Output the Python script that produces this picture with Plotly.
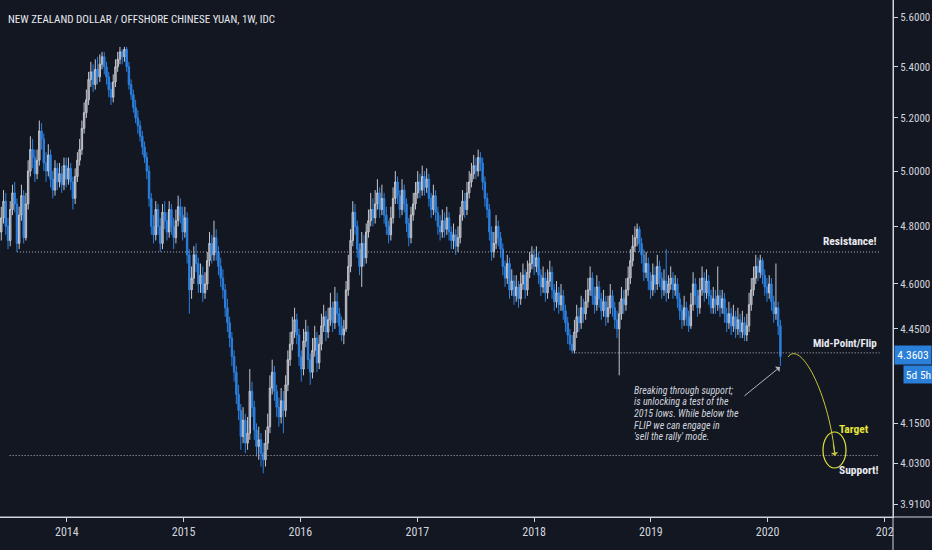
import math
import pandas as pd
import plotly.graph_objects as go

# weekly NZD/CNH candles, Jun 2013 -> Feb 2020
first_open = 4.78
closes = [
    # 2013
    4.83, 4.89, 4.80, 4.75, 4.86, 4.92, 4.88, 4.74, 4.84, 4.91, 4.76, 4.88, 5.00, 5.08, 5.05,
    4.99, 5.04, 5.15, 5.12, 5.03, 5.00, 5.06, 4.97, 4.93, 5.01, 4.96, 4.99, 4.95, 5.02,
    # 2014
    4.97, 5.01, 4.96, 4.90, 4.98, 5.04, 5.08, 5.16, 5.22, 5.27, 5.35, 5.38, 5.33, 5.39, 5.36,
    5.41, 5.44, 5.40, 5.36, 5.31, 5.28, 5.34, 5.40, 5.43, 5.46, 5.44, 5.47, 5.40, 5.33, 5.29,
    5.24, 5.20, 5.17, 5.13, 5.09, 5.05, 5.00, 4.90, 4.80, 4.77, 4.86, 4.80, 4.74, 4.85, 4.82,
    4.78, 4.86, 4.80, 4.76, 4.82, 4.87, 4.84,
    # 2015
    4.78, 4.83, 4.70, 4.58, 4.62, 4.70, 4.67, 4.60, 4.63, 4.57, 4.60, 4.68, 4.74, 4.70, 4.76,
    4.71, 4.66, 4.62, 4.58, 4.52, 4.47, 4.42, 4.36, 4.31, 4.24, 4.19, 4.11, 4.16, 4.09, 4.12,
    4.25, 4.20, 4.13, 4.08, 4.10, 4.06, 4.04, 4.09, 4.14, 4.26, 4.31, 4.25, 4.20, 4.17, 4.22,
    4.19, 4.27, 4.35, 4.40, 4.44, 4.48, 4.43,
    # 2016
    4.36, 4.32, 4.41, 4.44, 4.35, 4.31, 4.38, 4.42, 4.34, 4.40, 4.46, 4.49, 4.44, 4.48, 4.52,
    4.47, 4.54, 4.50, 4.46, 4.43, 4.45, 4.58, 4.66, 4.75, 4.85, 4.80, 4.72, 4.66, 4.74, 4.69,
    4.78, 4.82, 4.86, 4.83, 4.88, 4.92, 4.86, 4.90, 4.84, 4.80, 4.77, 4.83, 4.90, 4.96, 4.91,
    4.86, 4.93, 4.88, 4.81, 4.76, 4.84, 4.88,
    # 2017
    4.92, 4.96, 4.93, 4.98, 4.94, 4.97, 4.90, 4.86, 4.91, 4.85, 4.80, 4.78, 4.82, 4.79, 4.83,
    4.78, 4.75, 4.77, 4.73, 4.76, 4.84, 4.89, 4.86, 4.92, 4.96, 4.99, 5.02, 5.00, 5.05, 5.03,
    4.96, 4.90, 4.86, 4.78, 4.71, 4.74, 4.80, 4.76, 4.72, 4.66, 4.62, 4.67, 4.58, 4.61, 4.56,
    4.59, 4.55, 4.60, 4.63, 4.58, 4.64, 4.67,
    # 2018
    4.70, 4.66, 4.69, 4.63, 4.59, 4.62, 4.57, 4.61, 4.64, 4.58, 4.54, 4.57, 4.53, 4.56, 4.51,
    4.47, 4.43, 4.40, 4.38, 4.44, 4.49, 4.47, 4.52, 4.50, 4.54, 4.58, 4.62, 4.56, 4.53, 4.59,
    4.55, 4.51, 4.54, 4.49, 4.52, 4.56, 4.52, 4.48, 4.45, 4.50, 4.55, 4.53, 4.58, 4.62, 4.68,
    4.73, 4.76, 4.79, 4.74, 4.70, 4.64, 4.67, 4.61,
    # 2019
    4.58, 4.63, 4.60, 4.66, 4.62, 4.58, 4.61, 4.57, 4.60, 4.62, 4.58, 4.60, 4.55, 4.51, 4.48,
    4.52, 4.49, 4.46, 4.53, 4.60, 4.56, 4.52, 4.58, 4.62, 4.57, 4.61, 4.56, 4.52, 4.55, 4.53,
    4.56, 4.52, 4.55, 4.50, 4.47, 4.50, 4.46, 4.49, 4.45, 4.48, 4.44, 4.47, 4.43, 4.46, 4.53,
    4.58, 4.62, 4.66, 4.64, 4.68, 4.63, 4.59,
    # 2020
    4.57, 4.60, 4.54, 4.50, 4.52, 4.46, 4.3603,
]
highs = [
    4.87, 4.93, 4.92, 4.83, 4.89, 4.95, 4.96, 4.90, 4.87, 4.95, 4.93, 4.92, 5.04, 5.13, 5.12,
    5.08, 5.08, 5.19, 5.18, 5.14, 5.07, 5.10, 5.08, 5.00, 5.04, 5.03, 5.03, 5.02, 5.05,
    5.05, 5.05, 5.03, 4.98, 5.01, 5.07, 5.12, 5.19, 5.26, 5.31, 5.38, 5.42, 5.41, 5.43, 5.44,
    5.45, 5.46, 5.46, 5.42, 5.38, 5.34, 5.37, 5.43, 5.46, 5.48, 5.47, 5.48, 5.48, 5.42, 5.35,
    5.31, 5.27, 5.23, 5.19, 5.15, 5.11, 5.07, 5.02, 4.92, 4.84, 4.89, 4.88, 4.83, 4.88, 4.89,
    4.85, 4.89, 4.88, 4.83, 4.86, 4.91, 4.90,
    4.87, 4.87, 4.85, 4.72, 4.66, 4.73, 4.74, 4.69, 4.67, 4.66, 4.64, 4.71, 4.78, 4.77, 4.82,
    4.79, 4.73, 4.69, 4.65, 4.60, 4.55, 4.49, 4.44, 4.38, 4.33, 4.27, 4.21, 4.20, 4.18, 4.17,
    4.32, 4.28, 4.22, 4.15, 4.14, 4.12, 4.09, 4.13, 4.18, 4.30, 4.35, 4.33, 4.27, 4.23, 4.26,
    4.25, 4.30, 4.38, 4.44, 4.49, 4.52, 4.50,
    4.45, 4.38, 4.45, 4.48, 4.46, 4.37, 4.42, 4.46, 4.44, 4.43, 4.50, 4.53, 4.51, 4.52, 4.57,
    4.54, 4.59, 4.57, 4.52, 4.49, 4.48, 4.61, 4.70, 4.79, 4.89, 4.88, 4.82, 4.74, 4.78, 4.77,
    4.81, 4.86, 4.92, 4.90, 4.93, 4.97, 4.94, 4.95, 4.92, 4.87, 4.82, 4.87, 4.94, 5.00, 4.98,
    4.93, 4.97, 4.95, 4.90, 4.83, 4.87, 4.92,
    4.96, 5.00, 4.99, 5.02, 5.00, 5.01, 4.99, 4.92, 4.95, 4.93, 4.87, 4.84, 4.86, 4.85, 4.87,
    4.85, 4.80, 4.81, 4.79, 4.80, 4.87, 4.93, 4.92, 4.96, 5.00, 5.03, 5.06, 5.05, 5.08, 5.07,
    5.05, 4.98, 4.92, 4.88, 4.80, 4.78, 4.84, 4.82, 4.78, 4.74, 4.68, 4.70, 4.69, 4.65, 4.63,
    4.63, 4.61, 4.64, 4.67, 4.65, 4.68, 4.71,
    4.73, 4.72, 4.73, 4.71, 4.65, 4.66, 4.64, 4.65, 4.68, 4.66, 4.60, 4.61, 4.59, 4.60, 4.58,
    4.53, 4.49, 4.45, 4.43, 4.48, 4.53, 4.52, 4.56, 4.55, 4.58, 4.62, 4.66, 4.64, 4.59, 4.63,
    4.61, 4.57, 4.58, 4.56, 4.56, 4.60, 4.58, 4.54, 4.51, 4.54, 4.59, 4.58, 4.62, 4.66, 4.72,
    4.77, 4.80, 4.81, 4.80, 4.76, 4.72, 4.71, 4.69,
    4.64, 4.67, 4.66, 4.70, 4.68, 4.64, 4.65, 4.72, 4.63, 4.66, 4.64, 4.63, 4.62, 4.57, 4.53,
    4.56, 4.54, 4.51, 4.57, 4.64, 4.62, 4.58, 4.62, 4.66, 4.64, 4.65, 4.63, 4.58, 4.59, 4.58,
    4.66, 4.58, 4.58, 4.57, 4.52, 4.54, 4.52, 4.53, 4.51, 4.52, 4.50, 4.51, 4.49, 4.50, 4.57,
    4.62, 4.66, 4.70, 4.69, 4.70, 4.69, 4.65,
    4.62, 4.63, 4.62, 4.56, 4.67, 4.54, 4.48,
]
lows = [
    4.75, 4.81, 4.77, 4.72, 4.73, 4.84, 4.85, 4.71, 4.72, 4.82, 4.74, 4.75, 4.86, 4.98, 5.01,
    4.96, 4.97, 5.02, 5.08, 5.00, 4.96, 4.98, 4.94, 4.90, 4.91, 4.93, 4.94, 4.92, 4.93,
    4.94, 4.95, 4.93, 4.86, 4.88, 4.96, 5.02, 5.06, 5.14, 5.20, 5.25, 5.32, 5.30, 5.31, 5.33,
    5.34, 5.39, 5.37, 5.33, 5.28, 5.25, 5.26, 5.32, 5.38, 5.41, 5.41, 5.42, 5.38, 5.31, 5.27,
    5.22, 5.18, 5.14, 5.11, 5.06, 5.03, 4.97, 4.87, 4.77, 4.74, 4.75, 4.77, 4.71, 4.72, 4.79,
    4.75, 4.76, 4.77, 4.72, 4.74, 4.80, 4.81,
    4.75, 4.76, 4.67, 4.50, 4.55, 4.60, 4.64, 4.57, 4.57, 4.54, 4.55, 4.58, 4.66, 4.67, 4.68,
    4.68, 4.63, 4.59, 4.55, 4.49, 4.44, 4.39, 4.33, 4.28, 4.21, 4.16, 4.07, 4.09, 4.06, 4.07,
    4.10, 4.17, 4.10, 4.05, 4.04, 4.02, 4.00, 4.02, 4.07, 4.12, 4.24, 4.22, 4.17, 4.14, 4.15,
    4.12, 4.17, 4.25, 4.33, 4.38, 4.42, 4.40,
    4.33, 4.28, 4.30, 4.39, 4.32, 4.27, 4.29, 4.36, 4.31, 4.32, 4.38, 4.44, 4.41, 4.42, 4.46,
    4.44, 4.45, 4.47, 4.43, 4.41, 4.40, 4.44, 4.56, 4.64, 4.73, 4.77, 4.69, 4.63, 4.59, 4.66,
    4.67, 4.76, 4.80, 4.80, 4.81, 4.86, 4.83, 4.84, 4.81, 4.77, 4.74, 4.75, 4.81, 4.88, 4.88,
    4.83, 4.84, 4.85, 4.78, 4.73, 4.74, 4.82,
    4.86, 4.90, 4.90, 4.91, 4.91, 4.92, 4.87, 4.83, 4.84, 4.82, 4.77, 4.75, 4.76, 4.76, 4.77,
    4.75, 4.72, 4.72, 4.70, 4.71, 4.74, 4.82, 4.83, 4.84, 4.90, 4.94, 4.97, 4.97, 4.98, 5.00,
    4.93, 4.87, 4.83, 4.75, 4.68, 4.69, 4.72, 4.73, 4.69, 4.63, 4.59, 4.60, 4.55, 4.56, 4.53,
    4.54, 4.52, 4.53, 4.58, 4.55, 4.56, 4.62,
    4.65, 4.63, 4.64, 4.60, 4.56, 4.57, 4.54, 4.55, 4.59, 4.55, 4.51, 4.52, 4.50, 4.51, 4.48,
    4.44, 4.40, 4.38, 4.37, 4.37, 4.42, 4.44, 4.45, 4.47, 4.48, 4.52, 4.56, 4.53, 4.50, 4.51,
    4.52, 4.48, 4.49, 4.46, 4.47, 4.50, 4.49, 4.45, 4.42, 4.30, 4.48, 4.50, 4.51, 4.56, 4.60,
    4.66, 4.71, 4.73, 4.71, 4.67, 4.61, 4.62, 4.58,
    4.55, 4.56, 4.57, 4.58, 4.59, 4.55, 4.56, 4.54, 4.55, 4.58, 4.55, 4.56, 4.52, 4.48, 4.45,
    4.46, 4.46, 4.44, 4.45, 4.51, 4.53, 4.49, 4.50, 4.56, 4.54, 4.55, 4.53, 4.50, 4.50, 4.50,
    4.51, 4.49, 4.50, 4.47, 4.44, 4.45, 4.43, 4.44, 4.42, 4.43, 4.42, 4.42, 4.41, 4.41, 4.44,
    4.51, 4.56, 4.60, 4.61, 4.62, 4.60, 4.56,
    4.54, 4.55, 4.51, 4.47, 4.48, 4.43, 4.33,
]
opens = [first_open] + closes[:-1]
dates = pd.date_range("2013-06-10", periods=len(closes), freq="7D")

# horizontal levels drawn on the chart
level_names = ["Resistance!", "Mid-Point/Flip", "Support!"]
level_prices = [4.71, 4.372, 4.053]
level_starts = ["2013-07-29", "2018-05-11", "2013-07-06"]
level_end = "2020-12-16"

year_ticks = ["2014", "2015", "2016", "2017", "2018", "2019", "2020", "202"]
year_dates = [f"{y}-01-01" for y in range(2014, 2022)]
price_ticks = [3.91, 4.03, 4.15, 4.45, 4.6, 4.8, 5.0, 5.2, 5.4, 5.6]
last_price = 4.3603

BG = "#131722"
TXT = "#d1d4dc"
UP = "#8b8e97"
DOWN = "#2b80e0"
FONT = "Liberation Sans Narrow, Roboto Condensed, Arial Narrow, sans-serif"

W, H = 932, 550
PLOT_W, PLOT_H = 893, 517


def px(x):
    return x / PLOT_W


def py(y):
    return 1 - y / PLOT_H


fig = go.Figure()
fig.add_trace(go.Candlestick(
    x=dates, open=opens, high=highs, low=lows, close=closes,
    increasing=dict(line=dict(color="#c3c6ce", width=1), fillcolor=UP),
    decreasing=dict(line=dict(color=DOWN, width=1), fillcolor=DOWN),
    whiskerwidth=0, hoverinfo="skip", showlegend=False,
))

for name, p, start in zip(level_names, level_prices, level_starts):
    fig.add_trace(go.Scatter(
        x=[start, level_end], y=[p, p], mode="lines",
        line=dict(color="#b2b5be", width=1, dash="1px,2px"),
        hoverinfo="skip", showlegend=False,
    ))

annotations = [
    dict(x=px(6), y=py(19), text="NEW ZEALAND DOLLAR / OFFSHORE CHINESE YUAN, 1W, IDC",
         xanchor="left", yanchor="middle", font=dict(size=11, color="#e8eaf0")),
    dict(x=px(879), y=py(250), text="Resistance!", xanchor="right", yanchor="bottom",
         font=dict(size=11.5, color="#e8eaf0", weight="bold")),
    dict(x=px(879), y=py(352), text="Mid-Point/Flip", xanchor="right", yanchor="bottom",
         font=dict(size=11, color="#e8eaf0", weight="bold")),
    dict(x=px(881), y=py(461), text="Support!", xanchor="right", yanchor="top",
         font=dict(size=11.5, color="#e8eaf0", weight="bold")),
    dict(x=px(837), y=py(429), text="Target", xanchor="left", yanchor="middle",
         font=dict(size=11.5, color="#e5e53a", weight="bold")),
]

note_lines = [
    "Breaking through support;",
    "is unlocking a test of the",
    "2015 lows. While below the",
    "FLIP we can engage in",
    "'sell the rally' mode.",
]
for k, line in enumerate(note_lines):
    annotations.append(dict(
        x=px(632), y=py(390 + k * 11.7), text=line, xanchor="left", yanchor="middle",
        font=dict(size=10, color=TXT, style="italic"),
    ))

# grey pointer arrow
annotations.append(dict(x=px(780), y=py(367), ax=-37, ay=30, text="", showarrow=True,
                        arrowhead=1, arrowsize=1.2, arrowwidth=1, arrowcolor="#b2b5be"))
# yellow arrow tip
annotations.append(dict(x=px(835), y=py(456), ax=-2, ay=-14, text="", showarrow=True,
                        arrowhead=1, arrowsize=1.2, arrowwidth=1, arrowcolor="#c8c838"))

# price-scale labels
annotations.append(dict(x=px(894), y=py(355), text=f"{last_price:.4f}", xanchor="left",
                        yanchor="middle", showarrow=False, bgcolor="#2a7fd8", width=34,
                        height=16, font=dict(size=11.5, color="white")))
annotations.append(dict(x=px(903), y=py(374), text="5d 5h", xanchor="left",
                        yanchor="middle", showarrow=False, bgcolor="#2a7fd8", width=27,
                        height=15, font=dict(size=11.5, color="white")))

for a in annotations:
    a.setdefault("xref", "paper")
    a.setdefault("yref", "paper")
    a.setdefault("showarrow", False)

curve = (f"M {px(788)},{py(357)} C {px(800)},{py(340)} "
         f"{px(828)},{py(390)} {px(835)},{py(455)}")
shapes = [
    dict(type="path", path=curve, xref="paper", yref="paper",
         line=dict(color="#c8c838", width=1)),
    dict(type="circle", xref="paper", yref="paper", x0=px(823), x1=px(846),
         y0=py(468), y1=py(432), line=dict(color="#e5e53a", width=1.2)),
    # axis lines continue under the price scale
    dict(type="line", xref="paper", yref="paper", x0=0, x1=px(W), y0=0, y1=0,
         line=dict(color=TXT, width=1)),
    dict(type="line", xref="paper", yref="paper", x0=1, x1=1, y0=py(H), y1=1,
         line=dict(color=TXT, width=1)),
]

fig.update_layout(
    width=W, height=H,
    margin=dict(l=0, r=W - PLOT_W, t=0, b=H - PLOT_H),
    paper_bgcolor=BG, plot_bgcolor=BG,
    font=dict(family=FONT, color=TXT, size=12),
    annotations=annotations, shapes=shapes,
    showlegend=False, hovermode=False, boxgap=0.1,
    xaxis=dict(
        type="date", range=["2013-06-06", "2021-01-27"],
        rangeslider=dict(visible=False),
        tickvals=year_dates, ticktext=year_ticks,
        ticks="outside", ticklen=4, tickcolor=TXT,
        showgrid=False, zeroline=False, showline=True, linecolor=TXT,
        tickfont=dict(size=12, color=TXT),
    ),
    yaxis=dict(
        type="log", side="right",
        range=[math.log10(3.873), math.log10(5.673)],
        tickvals=price_ticks, ticktext=[f"{v:.4f}" for v in price_ticks],
        ticks="outside", ticklen=4, tickcolor=TXT,
        showgrid=False, zeroline=False, showline=True, linecolor=TXT,
        tickfont=dict(size=11, color=TXT),
    ),
)

# page body has a default 8px margin; drop it so the chart fills the window
fig.write_html("out.html", config={"displayModeBar": False}, post_script=(
    "document.body.style.margin='0';"
    f"document.body.style.background='{BG}';"
))
